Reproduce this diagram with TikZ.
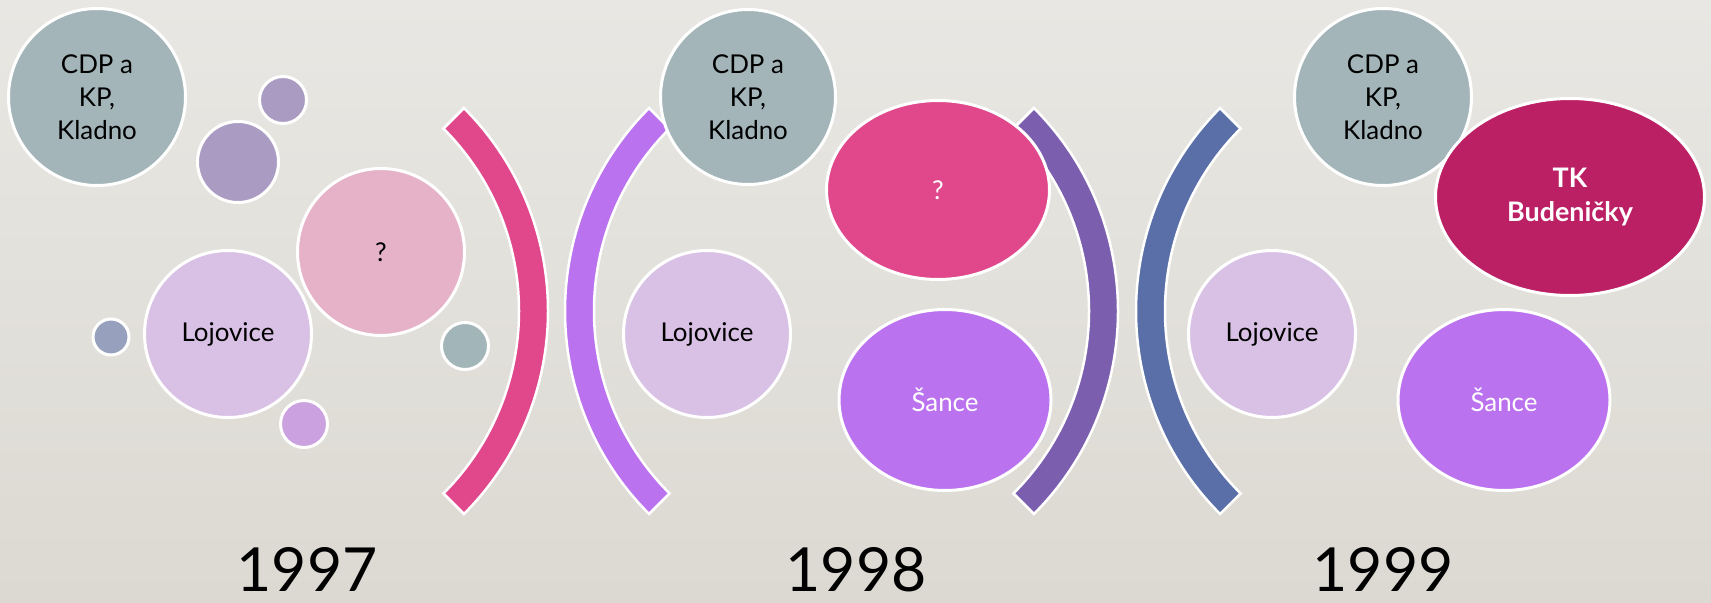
\documentclass[tikz,border=0pt]{standalone}
\usepackage{fontspec}
\setmainfont{Lato}
\usetikzlibrary{shapes.geometric}
\definecolor{bgtop}{HTML}{E8E7E3}
\definecolor{bgbot}{HTML}{DCD9D2}
\definecolor{cdpc}{HTML}{A3B5B9}
\definecolor{lavA}{HTML}{A99BC1}
\definecolor{pinkq}{HTML}{E5B2C8}
\definecolor{lojc}{HTML}{D9C1E5}
\definecolor{bluesm}{HTML}{97A1BE}
\definecolor{tealsm}{HTML}{A2B5B8}
\definecolor{purpsm}{HTML}{CBA1DF}
\definecolor{magc}{HTML}{E0488B}
\definecolor{violc}{HTML}{BB72EE}
\definecolor{dpurp}{HTML}{7B5FAE}
\definecolor{bluebr}{HTML}{5A6FA8}
\definecolor{tkc}{HTML}{BC2064}
\tikzset{
  bub/.style={draw=white, line width=3bp, inner sep=0pt, align=center,
    font=\fontsize{26}{33}\selectfont},
  rnd/.style={bub, circle, minimum size=#1},
  ovl/.style 2 args={bub, ellipse, minimum width=#1, minimum height=#2},
  brk/.style={draw=white, line width=2.5bp},
  yr/.style={font=\fontsize{61}{66}\selectfont, anchor=base, inner sep=0pt}
}
\begin{document}
\begin{tikzpicture}[x=1bp,y=-1bp]
\useasboundingbox (0,0) rectangle (1711,603);
\shade[top color=bgtop, bottom color=bgbot] (0,0) rectangle (1711,603);

% brackets
\filldraw[brk, fill=magc] (261,311) ++(-45:287) arc (-45:45:287) -- ++(45:-29) arc (45:-45:258) -- cycle;
\filldraw[brk, fill=violc] (852,311) ++(135:287) arc (135:225:287) -- ++(225:-29) arc (225:135:258) -- cycle;
\filldraw[brk, fill=dpurp] (831,311) ++(-45:287) arc (-45:45:287) -- ++(45:-29) arc (45:-45:258) -- cycle;
\filldraw[brk, fill=bluebr] (1423,311) ++(135:287) arc (135:225:287) -- ++(225:-29) arc (225:135:258) -- cycle;

% 1997
\node[rnd=177bp, fill=cdpc] (cdpA) at (97,97) {CDP a\\KP,\\Kladno};
\node[rnd=47bp, fill=lavA] (s1) at (283,100) {};
\node[rnd=81bp, fill=lavA] (s2) at (238,162) {};
\node[rnd=167bp, fill=pinkq] (qA) at (381,252) {?};
\node[rnd=167bp, fill=lojc] (lojA) at (228,334) {Lojovice};
\node[rnd=36bp, fill=bluesm] (s3) at (111,337) {};
\node[rnd=47bp, fill=tealsm] (s4) at (465,346) {};
\node[rnd=47bp, fill=purpsm] (s5) at (304,424) {};

% 1998
\node[rnd=175bp, fill=cdpc] (cdpB) at (748,97) {CDP a\\KP,\\Kladno};
\node[ovl={223bp}{179bp}, fill=magc, text=white] (qB) at (938,190) {?};
\node[rnd=167bp, fill=lojc] (lojB) at (707,334) {Lojovice};
\node[ovl={212bp}{181bp}, fill=violc, text=white] (sanB) at (945,400) {Šance};

% 1999
\node[rnd=177bp, fill=cdpc] (cdpC) at (1383,97) {CDP a\\KP,\\Kladno};
\node[ovl={269bp}{197bp}, fill=tkc, text=white, font=\fontsize{27}{34}\selectfont\bfseries] (tk) at (1570,197) {TK\\Budeničky};
\node[rnd=167bp, fill=lojc] (lojC) at (1272,334) {Lojovice};
\node[ovl={212bp}{181bp}, fill=violc, text=white] (sanC) at (1504,400) {Šance};

% years
\node[yr] (y97) at (307,591) {1997};
\node[yr] (y98) at (856,591) {1998};
\node[yr] (y99) at (1383,591) {1999};
\end{tikzpicture}
\end{document}
